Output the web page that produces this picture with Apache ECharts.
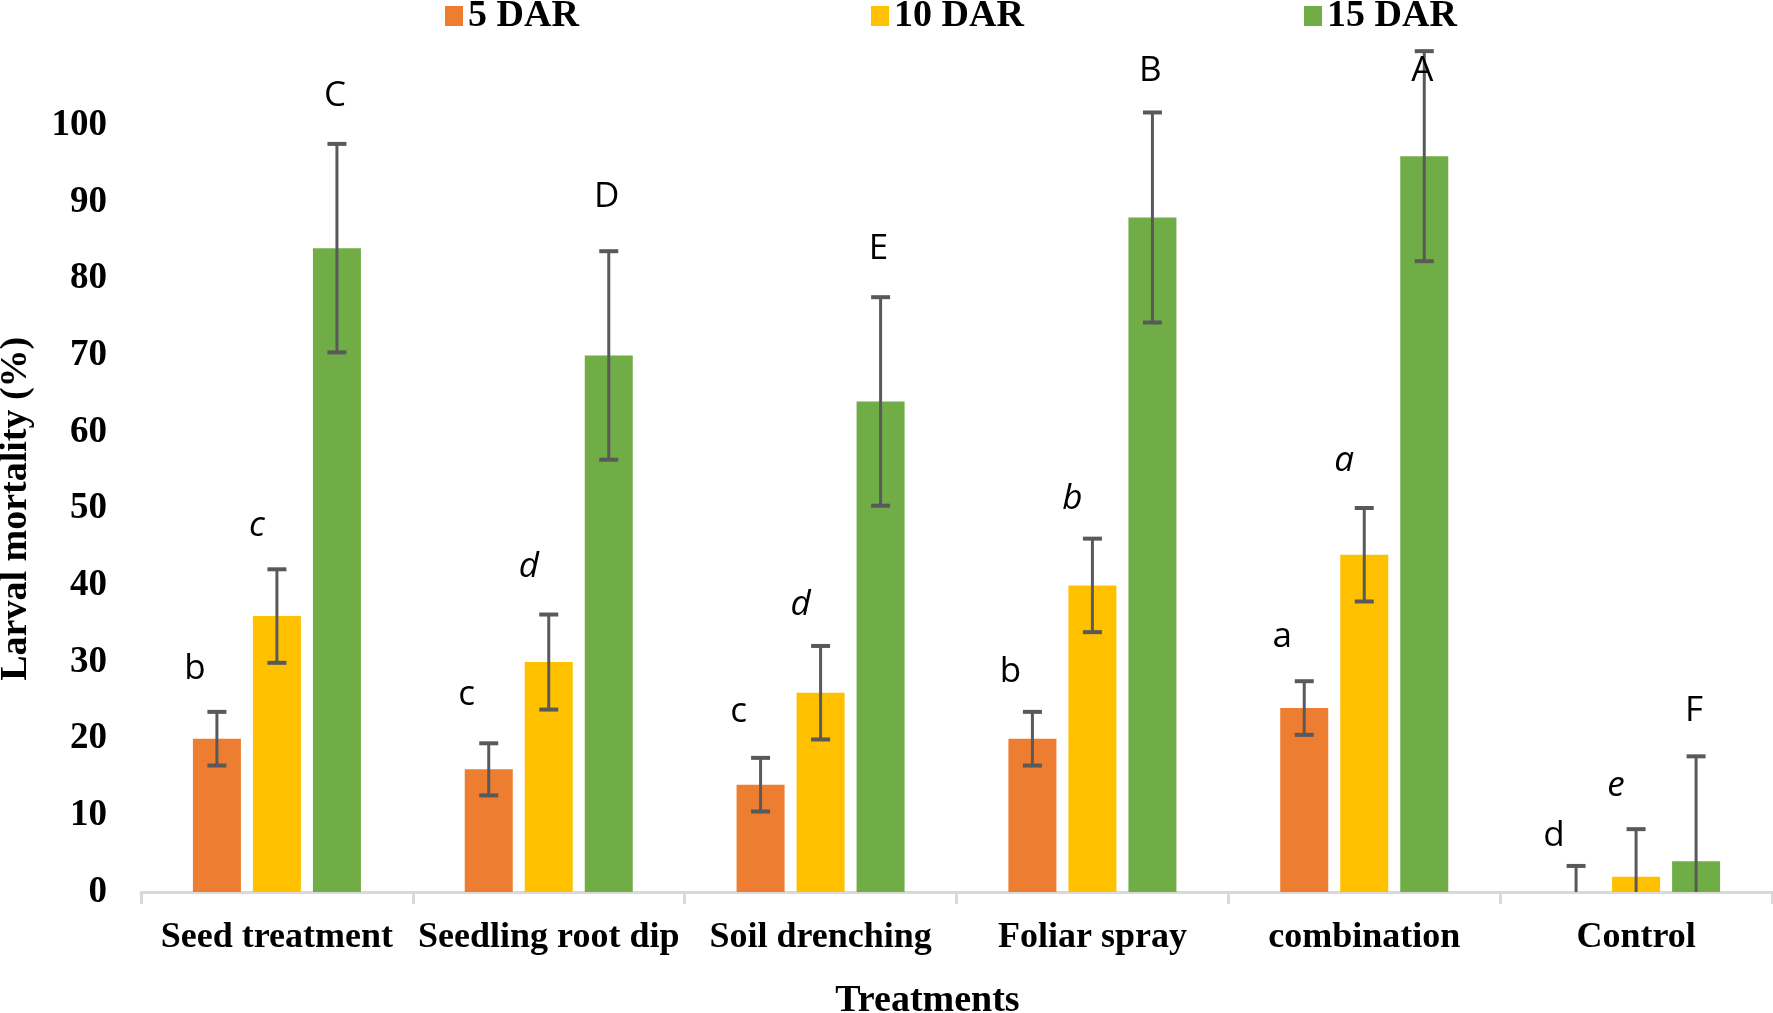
<!DOCTYPE html>
<html><head><meta charset="utf-8">
<script src="https://cdn.jsdelivr.net/npm/echarts@6/dist/echarts.min.js"></script>
<style>html,body{margin:0;padding:0;background:#fff}#c{width:1773px;height:1013px}</style>
</head><body><div id="c"></div>
<script>
// ---- data ----
const categories = ['Seed treatment', 'Seedling root dip', 'Soil drenching', 'Foliar spray', 'combination', 'Control'];
const seriesNames = ['5 DAR', '10 DAR', '15 DAR'];
const dar5  = [20, 16, 14, 20, 24, 0];
const dar10 = [36, 30, 26, 40, 44, 2];
const dar15 = [84, 70, 64, 88, 96, 4];
const err5  = [3.5, 3.4, 3.5, 3.5, 3.5, 3.4];
const err10 = [6.1, 6.2, 6.1, 6.1, 6.1, 6.2];
const err15 = [13.6, 13.6, 13.6, 13.7, 13.7, 13.7];
const letters5  = ['b', 'c', 'c', 'b', 'a', 'd'];
const letters10 = ['c', 'd', 'd', 'b', 'a', 'e'];
const letters15 = ['C', 'D', 'E', 'B', 'A', 'F'];
// value (axis units) at which each significance letter sits (baseline)
const letterAt5  = [27.6, 24.2, 22.0, 27.3, 31.8, 5.9];
const letterAt10 = [46.3, 41.0, 36.0, 49.8, 54.7, 12.3];
const letterAt15 = [102.4, 89.2, 82.4, 105.7, 105.7, 22.2];
const yTicks = [0, 10, 20, 30, 40, 50, 60, 70, 80, 90, 100];

// ---- style ----
const colors = ['#ED7D31', '#FFC000', '#70AD47'];
const BAR_FRAC = 0.1766, GAP_FRAC = 0.25;
const SERIF = '"Liberation Serif","Times New Roman",serif';
const SANS = '"Open Sans","Liberation Sans",sans-serif';
const LETTER_FS = 35;
const letterDx = [-22, -20, -2];

const chart = echarts.init(document.getElementById('c'), null, {renderer: 'canvas'});

function barSeries(k, vals) {
  return {
    type: 'bar', name: seriesNames[k], data: vals,
    barWidth: (BAR_FRAC * 100) + '%', barGap: (GAP_FRAC * 100) + '%',
    itemStyle: {color: colors[k]}, z: 2
  };
}
function errSeries(k, vals, errs, letters, letterAt, italic) {
  return {
    type: 'custom', name: 'err' + k, clip: false, z: 5,
    data: vals.map((v, i) => [i, v]),
    encode: {x: 0, y: 1},
    renderItem: function (params, api) {
      const i = params.dataIndex;
      const band = api.size([1, 0])[0];
      const bw = band * BAR_FRAC;
      const off = (k - 1) * bw * (1 + GAP_FRAC);
      const base = api.coord([i, vals[i]]);
      const cx = base[0] + off;
      const topY = api.coord([i, vals[i] + errs[i]])[1];
      const lowV = vals[i] - errs[i];
      const lowY = api.coord([i, Math.max(lowV, 0)])[1];
      const capW = 19;
      const st = {stroke: '#595959', lineWidth: 3};
      const capSt = {stroke: '#595959', lineWidth: 4};
      const children = [
        {type: 'line', shape: {x1: cx, y1: topY, x2: cx, y2: lowY}, style: st},
        {type: 'line', shape: {x1: cx - capW / 2, y1: topY, x2: cx + capW / 2, y2: topY}, style: capSt}
      ];
      if (lowV >= 0) {
        children.push({type: 'line', shape: {x1: cx - capW / 2, y1: lowY, x2: cx + capW / 2, y2: lowY}, style: capSt});
      }
      const ly = api.coord([i, letterAt[i]])[1] - LETTER_FS * 0.32;
      children.push({
        type: 'text', x: cx + letterDx[k], y: ly,
        style: {
          text: letters[i], fill: '#000', fontSize: LETTER_FS, fontFamily: SANS,
          fontStyle: italic ? 'italic' : 'normal', align: 'center', verticalAlign: 'middle'
        }
      });
      return {type: 'group', children: children};
    }
  };
}

const legendBase = {
  icon: 'rect', itemWidth: 18, itemHeight: 20, itemGap: 10, top: -8,
  textStyle: {fontFamily: SERIF, fontWeight: 'bold', fontSize: 38, color: '#000'}
};

const option = {
  backgroundColor: '#fff',
  animation: false,
  legend: [
    Object.assign({}, legendBase, {left: 440, data: [seriesNames[0]]}),
    Object.assign({}, legendBase, {left: 866, data: [seriesNames[1]]}),
    Object.assign({}, legendBase, {left: 1299, data: [seriesNames[2]]})
  ],
  grid: {left: 141, right: 1, top: 125.5, bottom: 121, containLabel: false, outerBoundsMode: 'none'},
  xAxis: {
    type: 'category', data: categories,
    axisLine: {show: true, lineStyle: {color: '#d9d9d9', width: 3}},
    axisTick: {show: true, length: 12, lineStyle: {color: '#d9d9d9', width: 3}},
    axisLabel: {color: '#000', fontFamily: SERIF, fontWeight: 'bold', fontSize: 36, margin: 28, interval: 0},
    name: 'Treatments', nameLocation: 'middle', nameGap: 90,
    nameTextStyle: {color: '#000', fontFamily: SERIF, fontWeight: 'bold', fontSize: 38, padding: [0, 58, 0, 0]}
  },
  yAxis: {
    type: 'value', min: yTicks[0], max: yTicks[yTicks.length - 1], interval: yTicks[1] - yTicks[0],
    axisLine: {show: false}, axisTick: {show: false}, splitLine: {show: false},
    axisLabel: {color: '#000', fontFamily: SERIF, fontWeight: 'bold', fontSize: 37, margin: 34},
    name: 'Larval mortality (%)', nameLocation: 'middle', nameGap: 106, nameRotate: 90,
    nameTextStyle: {color: '#000', fontFamily: SERIF, fontWeight: 'bold', fontSize: 38}
  },
  series: [
    barSeries(0, dar5), barSeries(1, dar10), barSeries(2, dar15),
    errSeries(0, dar5, err5, letters5, letterAt5, false),
    errSeries(1, dar10, err10, letters10, letterAt10, true),
    errSeries(2, dar15, err15, letters15, letterAt15, false)
  ]
};
chart.setOption(option);
</script>
</body></html>
